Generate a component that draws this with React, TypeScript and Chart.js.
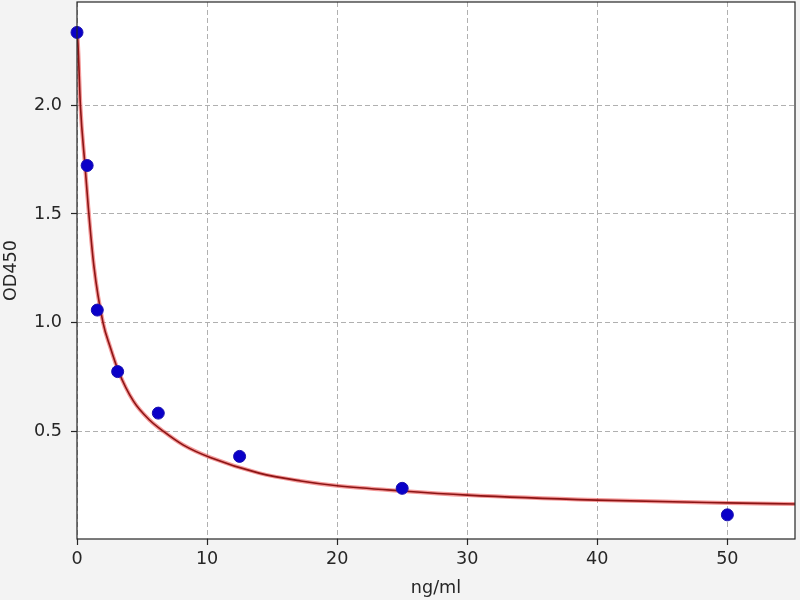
import React, { useEffect, useRef } from 'react'
import Chart, { registerables } from 'chart.js/auto'

// standards (ng/ml) and measured OD450
const stdConc = [0, 0.78, 1.56, 3.125, 6.25, 12.5, 25, 50]
const stdOD = [2.335, 1.723, 1.058, 0.775, 0.584, 0.385, 0.238, 0.116]

// fitted curve
const fitX = [0, 0.1, 0.26, 0.62, 0.87, 1.3, 2.0, 2.54, 3.18, 4.34, 5.62, 6.65, 8.18, 10.24, 14, 17.2, 20, 25, 30, 40, 50, 55.2]
const fitY = [2.36, 2.25, 2.0, 1.72, 1.53, 1.26, 1.0, 0.89, 0.778, 0.639, 0.55, 0.5, 0.437, 0.38, 0.308, 0.272, 0.25, 0.226, 0.207, 0.184, 0.171, 0.166]

const xTicks = [0, 10, 20, 30, 40, 50]
const yTicks = [0.5, 1.0, 1.5, 2.0]

const FONT = 'DejaVu Sans'
const FS = 17.6

const frame = {
  id: 'frame',
  beforeDraw(chart: any) {
    const { ctx, chartArea: a } = chart
    ctx.save()
    ctx.fillStyle = '#ffffff'
    ctx.fillRect(a.left, a.top, a.right - a.left, a.bottom - a.top)
    ctx.restore()
  },
  afterDraw(chart: any) {
    const { ctx, chartArea: a } = chart
    ctx.save()
    ctx.strokeStyle = '#262626'
    ctx.lineWidth = 1.2
    ctx.strokeRect(a.left, a.top, a.right - a.left, a.bottom - a.top)
    ctx.restore()
  }
}

const App: React.FC = () => {
  const canvasRef = useRef<HTMLCanvasElement | null>(null)

  useEffect(() => {
    Chart.register(...registerables)
    if (canvasRef.current === null) return
    const ctx = canvasRef.current.getContext('2d')
    if (ctx === null) return

    const curve = fitX.map((x, i) => ({ x, y: fitY[i] }))
    const pts = stdConc.map((x, i) => ({ x, y: stdOD[i] }))

    const chart = new Chart(ctx, {
      type: 'scatter',
      data: {
        datasets: [
          {
            data: pts,
            pointRadius: 6,
            pointBackgroundColor: '#0a00c8',
            pointBorderColor: '#1a10b0',
            pointBorderWidth: 1,
            showLine: false,
            clip: false as any,
            order: 0
          },
          {
            data: curve,
            showLine: true,
            pointRadius: 0,
            borderColor: 'rgba(235, 70, 70, 0.55)',
            borderWidth: 4,
            cubicInterpolationMode: 'monotone',
            order: 2
          },
          {
            data: curve,
            showLine: true,
            pointRadius: 0,
            borderColor: '#8c1414',
            borderWidth: 1.6,
            cubicInterpolationMode: 'monotone',
            order: 1
          }
        ]
      },
      options: {
        responsive: false,
        animation: false,
        layout: { autoPadding: false, padding: { top: 2, right: 5, left: 0, bottom: 0 } },
        plugins: {
          legend: { display: false },
          tooltip: { enabled: false }
        },
        scales: {
          x: {
            type: 'linear',
            min: 0,
            max: 55.2,
            afterBuildTicks: (s: any) => { s.ticks = xTicks.map((v) => ({ value: v })) },
            afterFit: (s: any) => { s.height = 61; s.paddingLeft = 0; s.paddingRight = 0 },
            ticks: {
              color: '#262626',
              font: { family: FONT, size: FS },
              padding: 4,
              maxRotation: 0,
              callback: (v: any) => String(v)
            },
            grid: { color: '#b0b0b0', lineWidth: 1, tickColor: '#262626', tickLength: 6, tickWidth: 1.2 },
            border: { display: false, dash: [5, 3] },
            title: {
              display: true,
              text: 'ng/ml',
              color: '#262626',
              font: { family: FONT, size: FS },
              padding: { top: 0, bottom: 1 }
            }
          },
          y: {
            type: 'linear',
            min: 0.005,
            max: 2.475,
            afterBuildTicks: (s: any) => { s.ticks = yTicks.map((v) => ({ value: v })) },
            afterFit: (s: any) => { s.width = 77; s.paddingTop = 0; s.paddingBottom = 0 },
            ticks: {
              color: '#262626',
              font: { family: FONT, size: FS },
              padding: 9,
              callback: (v: any) => Number(v).toFixed(1)
            },
            grid: { color: '#b0b0b0', lineWidth: 1, tickColor: '#262626', tickLength: 6, tickWidth: 1.2 },
            border: { display: false, dash: [5, 3] },
            title: {
              display: true,
              text: 'OD450',
              color: '#262626',
              font: { family: FONT, size: FS },
              padding: { top: 1, bottom: 0 }
            }
          }
        }
      },
      plugins: [frame]
    })

    return () => {
      chart.destroy()
    }
  }, [])

  return (
    <div style={{ position: 'fixed', left: 0, top: 0, width: 800, height: 600, background: '#f3f3f3' }}>
      <canvas ref={canvasRef} width={800} height={600} style={{ width: 800, height: 600 }} />
    </div>
  )
}

export default App
